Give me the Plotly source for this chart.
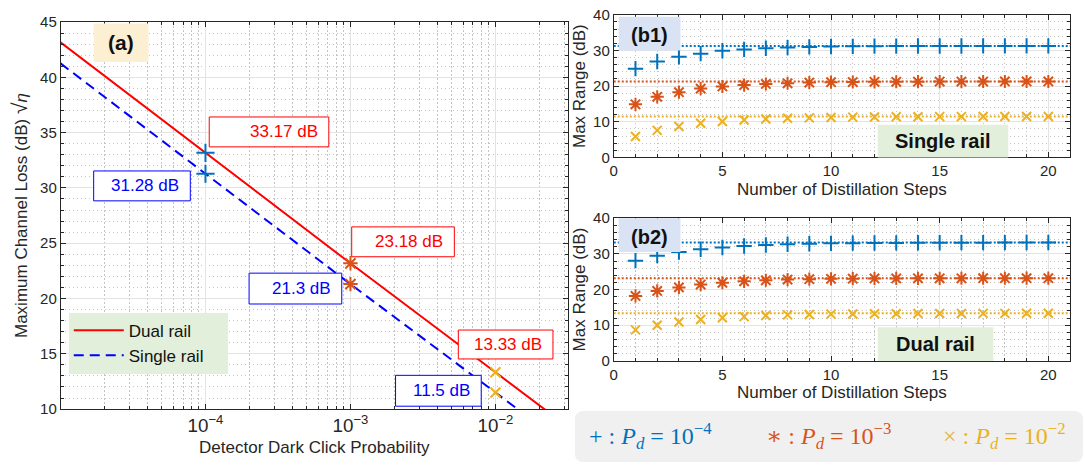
import plotly.graph_objects as go

W, H = 1085, 473

# ---------------- data : panel (a) ----------------
pd_line = [1e-5, 1e-4, 1e-3, 1e-2, 3.16e-2]
dual_line = [43.16, 33.17, 23.18, 13.33, 8.4]
single_line = [41.26, 31.28, 21.3, 11.5, 6.6]

pd_points = [1e-4, 1e-3, 1e-2]
dual_points = [33.17, 23.18, 13.33]
single_points = [31.28, 21.3, 11.5]
pd_exponents = ["−4", "−3", "−2"]

# ---------------- data : panels (b1), (b2) ----------------
steps = list(range(1, 21))
single_pd4 = [24.9, 26.9, 28.2, 29.1, 29.9, 30.3, 30.6, 30.8, 31.0, 31.1,
              31.15, 31.2, 31.22, 31.24, 31.25, 31.26, 31.27, 31.27, 31.28, 31.28]
single_pd3 = [14.9, 17.0, 18.3, 19.3, 19.9, 20.3, 20.6, 20.8, 21.0, 21.1,
              21.15, 21.2, 21.22, 21.25, 21.27, 21.28, 21.29, 21.3, 21.3, 21.3]
single_pd2 = [5.9, 7.6, 8.7, 9.6, 10.1, 10.5, 10.8, 11.0, 11.1, 11.2,
              11.3, 11.35, 11.4, 11.42, 11.44, 11.46, 11.47, 11.48, 11.49, 11.5]
dual_pd4 = [28.1, 29.5, 30.5, 31.3, 31.8, 32.2, 32.5, 32.7, 32.85, 32.95,
            33.0, 33.05, 33.08, 33.1, 33.12, 33.14, 33.15, 33.16, 33.17, 33.17]
dual_pd3 = [18.2, 19.6, 20.6, 21.4, 21.9, 22.3, 22.6, 22.8, 22.9, 23.0,
            23.05, 23.1, 23.12, 23.14, 23.15, 23.16, 23.17, 23.17, 23.18, 23.18]
dual_pd2 = [8.7, 10.0, 10.9, 11.6, 12.1, 12.4, 12.7, 12.9, 13.0, 13.1,
            13.15, 13.2, 13.23, 13.26, 13.28, 13.3, 13.31, 13.32, 13.33, 13.33]
single_limits = [31.28, 21.3, 11.5]
dual_limits = [33.17, 23.18, 13.33]
step_span = [0, 21]

# ---------------- styles ----------------
C_PD = ["#0072BD", "#D95319", "#EDB120"]
SYM = ["cross-thin", "asterisk", "x-thin"]
SYM_SIZE_A = [13, 12, 10]
SYM_SIZE_B = [11, 11, 9]
RED, BLUE = "#FF0000", "#0000FF"
AX = "#262626"
FONT = "Liberation Sans, Arial, Helvetica, sans-serif"
MATH = "Liberation Serif, DejaVu Serif, serif"
MINOR_GRID = dict(showgrid=True, griddash="1.5px,2.5px", gridcolor="#C4C4C4",
                  ticks="inside", ticklen=3, tickcolor=AX)
PAD = "\u00a0" * 4


def px(x):
    return x / W


def py(y):
    return 1 - y / H


fig = go.Figure()

# panel (a) lines
fig.add_trace(go.Scatter(x=pd_line, y=dual_line, mode="lines", name="Dual rail" + PAD,
                         line=dict(color=RED, width=2), xaxis="x", yaxis="y"))
fig.add_trace(go.Scatter(x=pd_line, y=single_line, mode="lines", name="Single rail" + PAD,
                         line=dict(color=BLUE, width=2, dash="10px,6px"), xaxis="x", yaxis="y"))
for i in range(3):
    fig.add_trace(go.Scatter(
        x=[pd_points[i], pd_points[i]], y=[dual_points[i], single_points[i]],
        mode="markers", showlegend=False, xaxis="x", yaxis="y",
        marker=dict(symbol=SYM[i], size=SYM_SIZE_A[i], color=C_PD[i],
                    line=dict(color=C_PD[i], width=2))))

# panels (b1), (b2)
series_b = [
    ("x2", "y2", [single_pd4, single_pd3, single_pd2], single_limits),
    ("x3", "y3", [dual_pd4, dual_pd3, dual_pd2], dual_limits),
]
for xa, ya, sers, lims in series_b:
    for i in range(3):
        fig.add_trace(go.Scatter(x=step_span, y=[lims[i], lims[i]], mode="lines",
                                 showlegend=False, xaxis=xa, yaxis=ya,
                                 line=dict(color=C_PD[i], width=2, dash="2px,2px")))
    for i in range(3):
        fig.add_trace(go.Scatter(x=steps, y=sers[i], mode="markers", showlegend=False,
                                 xaxis=xa, yaxis=ya,
                                 marker=dict(symbol=SYM[i], size=SYM_SIZE_B[i], color=C_PD[i],
                                             line=dict(color=C_PD[i], width=2))))

# ---------------- axes ----------------
common = dict(showline=True, linecolor=AX, linewidth=1, mirror="ticks", ticks="inside",
              ticklen=5, tickcolor=AX, tickfont=dict(size=15, color=AX, family=FONT),
              showgrid=True, gridcolor="#E3E3E3", gridwidth=1, zeroline=False,
              title_font=dict(size=17, color=AX, family=FONT))

fig.update_layout(
    xaxis=dict(common, type="log", range=[-4.998, -1.5], dtick=1, exponentformat="power",
               domain=[px(57), px(566)], anchor="y",
               minor=dict(MINOR_GRID, dtick="D1"),
               title=dict(text="Detector Dark Click Probability", standoff=6)),
    yaxis=dict(common, range=[10, 45], dtick=5, domain=[py(415), py(13.5)], anchor="x",
               minor=dict(MINOR_GRID, dtick=1),
               title=dict(text="Maximum Channel Loss (dB) <span style='font-size:21px'>√</span><i>η</i>",
                          standoff=8)),
    xaxis2=dict(common, range=[0, 21], dtick=5, domain=[px(612), px(1070)], anchor="y2",
                minor=dict(MINOR_GRID, dtick=1),
                title=dict(text="Number of Distillation Steps", standoff=4)),
    yaxis2=dict(common, range=[0, 40], dtick=10, domain=[py(154), py(6)], anchor="x2",
                minor=dict(MINOR_GRID, dtick=2),
                title=dict(text="Max Range (dB)", standoff=3)),
    xaxis3=dict(common, range=[0, 21], dtick=5, domain=[px(612), px(1070)], anchor="y3",
                minor=dict(MINOR_GRID, dtick=1),
                title=dict(text="Number of Distillation Steps", standoff=4)),
    yaxis3=dict(common, range=[0, 40], dtick=10, domain=[py(365), py(217)], anchor="x3",
                minor=dict(MINOR_GRID, dtick=2),
                title=dict(text="Max Range (dB)", standoff=3)),
)

# ---------------- decorations ----------------
shapes, annos = [], []


def box(x0, y0, x1, y1, fill="white", line=None, lw=1, layer="above"):
    shapes.append(dict(type="rect", xref="paper", yref="paper",
                       x0=px(x0), x1=px(x1), y0=py(y1), y1=py(y0),
                       fillcolor=fill, layer=layer,
                       line=dict(color=line if line else fill, width=lw if line else 0)))


def text(x, y, s, color, size, xanchor="center", bold=False, family=FONT):
    annos.append(dict(xref="paper", yref="paper", x=px(x), y=py(y), text=f"<b>{s}</b>" if bold else s,
                      showarrow=False, xanchor=xanchor, yanchor="middle",
                      font=dict(size=size, color=color, family=family)))


# value boxes of panel (a): (x0, y0, x1, y1) in pixels
dual_boxes = [(206, 112, 326, 143), (349, 226, 452, 257), (456, 333, 551, 363)]
single_boxes = [(90, 168, 187, 199), (246, 274, 339, 306), (393, 380, 479, 412)]
for vals, boxes, col in [(dual_points, dual_boxes, RED), (single_points, single_boxes, BLUE)]:
    for v, (x0, y0, x1, y1) in zip(vals, boxes):
        box(x0, y0, x1, y1, fill="white", line=col)
        text(x1 - 9, (y0 + y1) / 2, f"{v:g} dB", col, 17, xanchor="right")

# panel labels
box(90, 15, 145, 55, fill="#FCEFD2")
text(117.5, 35, "(a)", "#111111", 21, bold=True)
box(617, 8, 679, 43, fill="#DAE3F3")
text(648, 27, "(b1)", "#111111", 20, bold=True)
box(617, 217, 679, 252, fill="#DAE3F3")
text(648, 236, "(b2)", "#111111", 20, bold=True)
box(877, 120, 1008, 154, fill="#E2EFDA")
text(942.5, 137, "Single rail", "#111111", 20, bold=True)
box(877, 330, 993, 365, fill="#E2EFDA")
text(935, 347.5, "Dual rail", "#111111", 20, bold=True)

# bottom key (rounded grey box)
x0, y0, x1, y1, r = 573, 417, 1083, 470, 9
path = (f"M {px(x0 + r)} {py(y0)} L {px(x1 - r)} {py(y0)} Q {px(x1)} {py(y0)} {px(x1)} {py(y0 + r)} "
        f"L {px(x1)} {py(y1 - r)} Q {px(x1)} {py(y1)} {px(x1 - r)} {py(y1)} "
        f"L {px(x0 + r)} {py(y1)} Q {px(x0)} {py(y1)} {px(x0)} {py(y1 - r)} "
        f"L {px(x0)} {py(y0 + r)} Q {px(x0)} {py(y0)} {px(x0 + r)} {py(y0)} Z")
shapes.append(dict(type="path", xref="paper", yref="paper", path=path,
                   fillcolor="#F0F0F0", line=dict(width=0), layer="below"))
key_syms = ["+", "∗", "×"]
key_x = [585, 763, 940]
for i in range(3):
    s = (f"{key_syms[i]} : <i>P</i><sub><i>d</i></sub> = 10<sup>{pd_exponents[i]}</sup>")
    text(key_x[i], 443, s, C_PD[i], 24, xanchor="left", family=MATH)

fig.update_layout(
    width=W, height=H, margin=dict(l=0, r=0, t=0, b=0),
    paper_bgcolor="white", plot_bgcolor="white",
    font=dict(family=FONT, color=AX),
    shapes=shapes, annotations=annos,
    legend=dict(x=px(65), y=py(315), xanchor="left", yanchor="top",
                bgcolor="#E2EFDA", borderwidth=0, font=dict(size=17, color="#111111", family=FONT),
                itemwidth=50, tracegroupgap=0),
)

fig.write_html("out.html")
